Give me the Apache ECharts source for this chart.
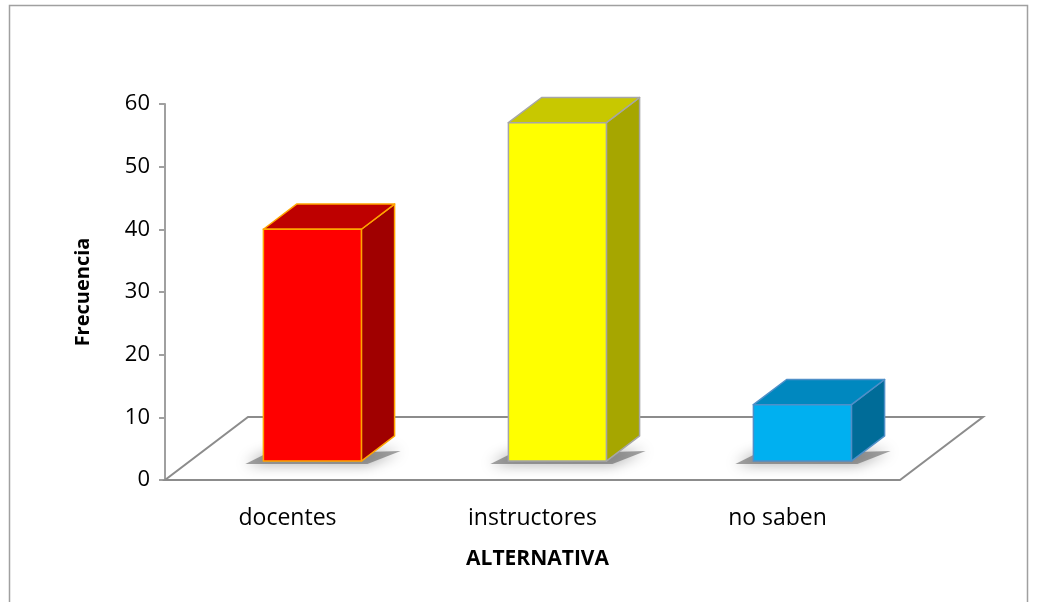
<!DOCTYPE html>
<html>
<head>
<meta charset="utf-8">
<script src="https://cdn.jsdelivr.net/npm/echarts@6/dist/echarts.min.js"></script>
<style>html,body{margin:0;padding:0;background:#fff}#c{width:1038px;height:602px}</style>
</head>
<body>
<div id="c"></div>
<script>
var categories = ['docentes', 'instructores', 'no saben'];
var frecuencia = [37, 54, 9];
var yTicks = [0, 10, 20, 30, 40, 50, 60];

var FONT = "'Open Sans', 'Liberation Sans', sans-serif";
var DX = 83, DY = -63; // floor depth offset
var palette = [
  {front: '#FF0000', top: '#BE0000', side: '#A00000', border: '#FFA500'},
  {front: '#FFFF00', top: '#C8C800', side: '#A6A600', border: '#A6A6A6'},
  {front: '#00B0F0', top: '#0088BF', side: '#006C98', border: '#4F8FC8'}
];

var chart = echarts.init(document.getElementById('c'));

function floorItem(params, api) {
  var cs = params.coordSys;
  var x0 = cs.x, x1 = cs.x + cs.width, y = cs.y + cs.height;
  return {
    type: 'polygon',
    shape: {points: [[x0, y], [x1, y], [x1 + DX, y + DY], [x0 + DX, y + DY]]},
    style: {fill: '#fff', stroke: '#8C8C8C', lineWidth: 2},
    silent: true
  };
}

function barItem(params, api) {
  var idx = api.value(0), v = api.value(1);
  var p0 = api.coord([idx, 0]);
  var p1 = api.coord([idx, v]);
  var band = api.size([1, 0])[0];
  var w = band * 0.4;
  var fdx = DX * 0.30, fdy = DY * 0.30;
  var ddx = DX * 0.40, ddy = DY * 0.40;
  var cx = p0[0] + fdx;
  var xl = cx - w / 2, xr = cx + w / 2;
  var yb = p0[1] + fdy, yt = p1[1] + fdy;
  var c = palette[idx];
  return {
    type: 'group',
    children: [
      {type: 'polygon', shape: {points: [[xl - 18, yb + 3], [xr + 6, yb + 3], [xr + ddx + 6, yb + ddy * 0.4], [xl, yb - 6]]},
       style: {fill: 'rgba(90,90,90,0.55)', shadowBlur: 14, shadowColor: 'rgba(0,0,0,0.7)'}, silent: true},
      {type: 'polygon', shape: {points: [[xr, yb], [xr + ddx, yb + ddy], [xr + ddx, yt + ddy], [xr, yt]]},
       style: {fill: c.side, stroke: c.border, lineWidth: 1.5, lineJoin: 'round'}},
      {type: 'polygon', shape: {points: [[xl, yt], [xr, yt], [xr + ddx, yt + ddy], [xl + ddx, yt + ddy]]},
       style: {fill: c.top, stroke: c.border, lineWidth: 1.5, lineJoin: 'round'}},
      {type: 'rect', shape: {x: xl, y: yt, width: w, height: yb - yt},
       style: {fill: c.front, stroke: c.border, lineWidth: 1.5}}
    ]
  };
}

chart.setOption({
  backgroundColor: '#fff',
  animation: false,
  graphic: [{
    type: 'rect', shape: {x: 9.5, y: 5.5, width: 1018, height: 620},
    style: {fill: null, stroke: '#A0A0A0', lineWidth: 1.5}, silent: true, z: -10
  }],
  grid: {left: 165, right: 138, top: 104, bottom: 122},
  xAxis: {
    type: 'category', data: categories,
    name: 'ALTERNATIVA', nameLocation: 'middle', nameGap: 69,
    nameTextStyle: {fontFamily: FONT, fontSize: 21, fontWeight: 'bold', color: '#000', padding: [0, 0, 0, 10]},
    axisLine: {show: false}, axisTick: {show: false},
    axisLabel: {fontFamily: FONT, fontSize: 23, color: '#000', margin: 27},
    splitLine: {show: false}
  },
  yAxis: {
    type: 'value', min: yTicks[0], max: yTicks[yTicks.length - 1], interval: 10,
    name: 'Frecuencia', nameLocation: 'middle', nameGap: 72, nameRotate: 90,
    nameTextStyle: {fontFamily: FONT, fontSize: 20, fontWeight: 'bold', color: '#000'},
    axisLine: {show: true, lineStyle: {color: '#A0A0A0', width: 2}},
    axisTick: {show: true, length: 6, lineStyle: {color: '#A0A0A0', width: 2}},
    axisLabel: {fontFamily: FONT, fontSize: 22, color: '#000', margin: 15},
    splitLine: {show: false}
  },
  series: [
    {type: 'custom', renderItem: floorItem, data: [[0, 0]], z: 1, silent: true},
    {type: 'custom', renderItem: barItem, z: 2,
     data: frecuencia.map(function (v, i) { return [i, v]; })}
  ]
});
</script>
</body>
</html>
